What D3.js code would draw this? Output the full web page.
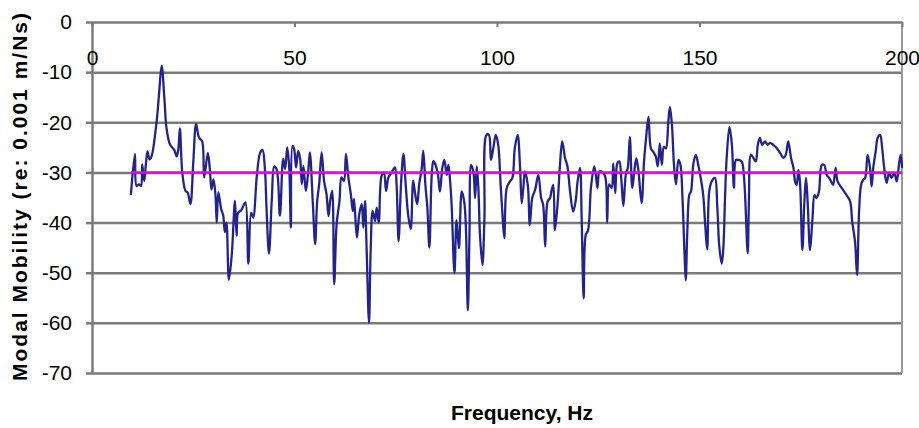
<!DOCTYPE html>
<html>
<head>
<meta charset="utf-8">
<script src="https://cdn.jsdelivr.net/npm/d3@7"></script>
<style>
  body { margin: 0; background: #fff; }
  text { font-family: "Liberation Sans", Arial, sans-serif; }
</style>
</head>
<body>
<div id="chart"></div>
<script>
// frequency (Hz) and modal mobility (dB re 0.001 m/Ns)
const freq = [
  9.6, 10.6, 11, 11.6, 12.1, 12.4, 12.9, 13.3, 13.7, 14.2, 14.7, 16, 16.5, 17.2, 17.9, 18.4, 19.3, 20.3, 20.9, 21.3,
  21.7, 22.3, 23.1, 23.6, 24.3, 25, 25.7, 26.4, 27.2, 27.7, 28.6, 29.1, 29.5, 30, 30.5, 30.8, 31.2, 31.9, 32.4, 32.8,
  33.2, 33.8, 34.5, 35.3, 35.7, 36.1, 36.8, 37.4, 37.9, 38.6, 39.3, 39.8, 40.7, 41.5, 42.1, 42.7, 43.1, 43.7, 44.4, 45,
  45.6, 46.4, 47.2, 47.7, 48.2, 48.7, 49.1, 49.5, 49.9, 50.4, 50.9, 51.4, 51.8, 52.2, 52.8, 53.4, 53.8, 54.5, 55.1, 55.6,
  56.1, 56.7, 57.3, 57.9, 58.4, 58.8, 59.3, 59.8, 60.4, 61.1, 61.6, 62.2, 62.7, 63.3, 63.9, 64.4, 64.7, 65.4, 66, 66.6,
  67, 67.4, 67.8, 68.4, 68.8, 69.3, 69.9, 70.3, 70.8, 71.5, 72.1, 72.6, 73.2, 74, 74.8, 75.2, 75.7, 76.3, 76.9, 77.5,
  78.1, 78.7, 79.3, 79.8, 80.3, 80.8, 81.4, 81.8, 82.3, 82.8, 83.3, 83.9, 84.3, 85.3, 85.9, 86.5, 87, 87.6, 88, 88.4,
  88.8, 89.5, 90, 90.6, 91.3, 91.9, 92.3, 92.8, 93.2, 93.6, 94.2, 94.6, 95, 95.4, 95.8, 96.4, 96.9, 97.4, 98, 98.5,
  99.1, 99.7, 100.3, 100.9, 101.3, 101.8, 102.4, 103.2, 103.8, 104.4, 105.1, 105.7, 106.1, 106.5, 106.9, 107.6, 108.1, 108.7, 109.4, 110.2,
  110.9, 111.4, 111.9, 112.5, 113.1, 113.5, 113.9, 114.3, 115, 115.5, 116.1, 116.8, 117.4, 118, 118.8, 119.4, 119.9, 120.5, 120.9, 121.4,
  121.9, 122.5, 123.2, 124, 124.4, 124.8, 125.3, 125.8, 126.7, 127.2, 127.7, 128.3, 128.7, 129.2, 129.7, 130.2, 130.7, 131.2, 131.8, 132.3,
  132.8, 133.4, 133.9, 134.4, 134.9, 135.7, 136.3, 136.8, 137.4, 138, 138.6, 139.2, 139.7, 140.2, 140.7, 141.2, 141.7, 142.3, 142.7, 143.2,
  143.7, 144.2, 144.8, 145.3, 145.8, 146.3, 146.6, 147, 147.5, 147.9, 148.5, 149.1, 149.7, 150.3, 150.9, 151.4, 151.9, 152.4, 153, 153.8,
  154.4, 154.9, 155.5, 155.9, 156.3, 156.7, 157.4, 158, 158.5, 159, 159.6, 160.4, 161, 161.9, 162.2, 162.7, 163.3, 163.9, 164.4, 164.9,
  165.5, 166.2, 166.8, 167.4, 168.2, 169, 169.9, 170.7, 171.3, 171.9, 172.6, 173.2, 173.6, 174, 174.4, 174.8, 175.4, 175.9, 176.3, 176.7,
  177.3, 177.9, 178.4, 178.9, 179.5, 180.2, 180.8, 181.4, 182, 182.5, 183, 183.6, 184.1, 185.1, 186.3, 187.2, 187.7, 188.4, 188.9, 189.4,
  189.9, 190.4, 190.9, 191.5, 192.1, 192.5, 192.9, 193.5, 194, 194.6, 195.1, 195.6, 196.2, 196.8, 197.4, 198.1, 198.7, 199.3, 199.7, 200
]
const mobility = [
  -34.5, -26.3, -32.7, -32.4, -32.7, -28.4, -31.7, -28.4, -25.8, -27.4, -26.8, -19.5, -14.9, -8.7, -15.6, -21.2, -24.5, -25.5, -26.8, -25.5,
  -21.2, -30.1, -33.7, -34, -36.3, -28.1, -20.3, -23, -23.8, -31, -26.1, -29.4, -33.4, -31.4, -34.7, -40, -34, -37.3, -38.6, -41.9,
  -40, -51.4, -46.5, -35.7, -42.6, -38, -37.6, -36.6, -36, -48.2, -38, -39, -30.7, -26.1, -25.5, -29.4, -37.3, -46.2, -35.3, -28.8,
  -29.4, -38.6, -27.3, -29.3, -25, -29, -41, -24.7, -25.3, -29, -25.7, -27.3, -32.3, -28.7, -33.7, -29.7, -26, -35.7, -44.3, -35.7,
  -32.3, -26, -31.7, -34.3, -38.7, -35.7, -33.7, -52.3, -40.3, -35.7, -31, -31.7, -26.3, -31, -34.3, -37.7, -35.3, -43, -38.3, -36.3,
  -41, -35.7, -45, -60, -45.7, -37.7, -39.7, -37, -40, -30.7, -30, -33.7, -31, -30, -29, -32.3, -43.7, -32.3, -26.3, -33,
  -38.7, -41.3, -31.7, -34.3, -36.3, -32.3, -29.3, -25.7, -32.3, -37, -45, -30.3, -27.7, -29.8, -33.8, -29.1, -27.5, -30.5, -28.5, -31.5,
  -36.5, -50.1, -39.5, -45.1, -33.8, -35.8, -40.5, -57.5, -42.5, -28.5, -30.1, -35.1, -28.8, -33.1, -42.5, -48.5, -39.1, -22.5, -22.5, -27.5,
  -25.1, -22.5, -24.5, -32.5, -37.8, -43.1, -33.1, -31.8, -31.1, -25.1, -22.5, -29.1, -36.1, -33.1, -29.8, -32.5, -40.5, -35.1, -33.5, -30.5,
  -35.1, -36.5, -44.8, -35.8, -35.1, -33.5, -32.5, -41.5, -35.8, -29.1, -23.8, -27.1, -28.8, -33.5, -37.8, -35.8, -31.8, -29.1, -39.1, -55.1,
  -42.5, -41.5, -33, -28.8, -30.5, -33.1, -29.8, -29.8, -30.8, -40, -32.4, -33.1, -28.2, -34.1, -28.2, -27.8, -31.4, -36.7, -30.5, -29.1,
  -22.9, -33.1, -29.8, -27.2, -29.5, -36.1, -27.8, -23.2, -18.9, -25.2, -25.9, -26.8, -28.8, -24.2, -28.5, -24.9, -25.2, -19.9, -17, -20.6,
  -28.5, -32.4, -27.5, -28.5, -35.1, -46.2, -51.5, -41.6, -34.4, -33.8, -28.2, -26.5, -28.5, -31.1, -34.4, -40.3, -45.3, -33.8, -31.8, -31.1,
  -37, -44.9, -48.2, -44.9, -35.1, -27.2, -20.9, -24.5, -33.1, -27.5, -27.5, -27.8, -31.1, -46.1, -35.8, -26.5, -27.1, -27.8, -24.5, -23.1,
  -24.5, -23.8, -24.5, -24.1, -24.5, -25.1, -26.1, -27.1, -26.5, -23.8, -27.1, -29.1, -31.8, -32.5, -29.5, -31.8, -45.5, -35.8, -31.1, -35.8,
  -45.5, -39.1, -34.5, -35.1, -33.8, -28.5, -28.5, -30.5, -31.1, -31.8, -32.5, -29.1, -31.8, -33.1, -34.5, -35.8, -39.8, -43.8, -50.5, -37.8,
  -32.5, -31.5, -31.1, -26.5, -29.1, -32.8, -29.1, -25.8, -23.1, -22.5, -25.1, -29.1, -32.1, -30.1, -31.1, -30.1, -31.8, -28.1, -26.5, -29.1
]
const meanLevel = -30
const xTicks = [0, 50, 100, 150, 200]
const yTicks = [0, -10, -20, -30, -40, -50, -60, -70]

const width = 919
const height = 428
const margin = {top: 22, right: 17, bottom: 55, left: 92}

const svg = d3.select("#chart")
  .append("svg")
    .attr("width", width)
    .attr("height", height)

const x = d3.scaleLinear().domain([0, 200]).range([margin.left, width - margin.right])
const y = d3.scaleLinear().domain([-70, 0]).range([height - margin.bottom, margin.top])

const gridColor = "#7a7a7a"

// horizontal gridlines with short ticks on the left
svg.append("g")
  .attr("transform", `translate(${margin.left},0)`)
  .call(d3.axisLeft(y).tickValues(yTicks).tickSize(6).tickSizeOuter(0).tickPadding(14).tickFormat(d => String(d)))
  .call(g => g.select(".domain").attr("stroke", gridColor).attr("stroke-width", 2.5))
  .call(g => g.selectAll(".tick line").clone()
      .attr("x2", x(200) - margin.left)
      .attr("stroke", gridColor)
      .attr("stroke-width", 2.5))
  .call(g => g.selectAll(".tick line").attr("stroke", gridColor).attr("stroke-width", 2.5))
  .call(g => g.selectAll("text")
      .attr("fill", "#000")
      .style("font-size", "21px"))

// right border
svg.append("line")
  .attr("x1", x(200)).attr("x2", x(200))
  .attr("y1", y(0)).attr("y2", y(-70))
  .attr("stroke", "#9a9a9a")
  .attr("stroke-width", 2)

// frequency axis sits on the 0 line, labels below it
svg.append("g")
  .attr("transform", `translate(0,${y(0)})`)
  .call(d3.axisBottom(x).tickValues(xTicks).tickSize(5).tickSizeOuter(0).tickPadding(23))
  .call(g => g.select(".domain").remove())
  .call(g => g.selectAll(".tick line").attr("stroke", gridColor).attr("stroke-width", 2))
  .call(g => g.selectAll("text")
      .attr("fill", "#000")
      .style("font-size", "21px"))

const line = d3.line()
  .x((d, i) => x(freq[i]))
  .y(d => y(d))
  .curve(d3.curveCatmullRom.alpha(0.5))

svg.append("path")
  .datum(mobility)
  .attr("fill", "none")
  .attr("stroke", "#23238c")
  .attr("stroke-width", 2.3)
  .attr("stroke-linejoin", "round")
  .attr("d", line)

svg.append("line")
  .attr("x1", x(d3.min(freq))).attr("x2", x(d3.max(freq)))
  .attr("y1", y(meanLevel)).attr("y2", y(meanLevel))
  .attr("stroke", "#f000f0")
  .attr("stroke-width", 2.5)

svg.append("text")
  .attr("x", 522)
  .attr("y", 420)
  .attr("text-anchor", "middle")
  .style("font-size", "21px")
  .style("font-weight", "bold")
  .text("Frequency, Hz")

svg.append("text")
  .attr("transform", "translate(27,197) rotate(-90)")
  .attr("text-anchor", "middle")
  .attr("textLength", 368)
  .attr("lengthAdjust", "spacing")
  .style("font-size", "21px")
  .style("font-weight", "bold")
  .text("Modal Mobility (re: 0.001 m/Ns)")
</script>
</body>
</html>
